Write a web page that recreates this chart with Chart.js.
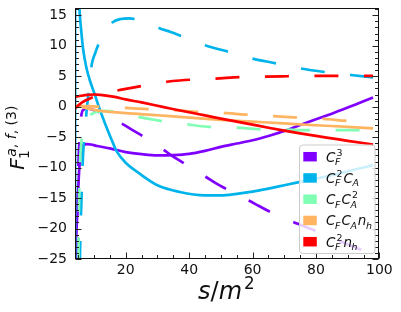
<!DOCTYPE html>
<html><head><meta charset="utf-8">
<script src="https://cdn.jsdelivr.net/npm/chart.js@4.4.1/dist/chart.umd.min.js"></script>
<style>html,body{margin:0;padding:0;background:#fff;}#wrap{width:401px;height:312px;}</style>
</head><body><div id="wrap"><canvas id="c" width="401" height="312"></canvas></div>
<script>
// ---------- data ----------
const xTicks = [20, 40, 60, 80, 100];
const yTicks = [-25, -20, -15, -10, -5, 0, 5, 10, 15];

// C_F^3
const cf3SolidX = [4.1,4.5,4.9,5.2,5.5,5.8,6.2,6.8,7.7,9,11,15,20,25,30,35,40,45,50,55,60,65,70,75,80,85,90,95,98];
const cf3SolidY = [-25.5,-20,-15,-11.5,-9,-7.5,-6.6,-6.25,-6.15,-6.2,-6.45,-6.85,-7.45,-7.8,-8.0,-7.95,-7.75,-7.25,-6.6,-6.05,-5.5,-4.8,-4.0,-3.0,-2.05,-1.15,-0.15,0.9,1.5];
const cf3DashX = [4.3,4.5,4.7,4.9,5.1,5.4,5.75,6.1,6.85,7.7,9,11,13,15.5,18.7,21.4,24.5,28,31.7,35,38.4,42,45.2,48.5,52,55.5,58.75,62,65.5,69,72.8,77,81,85,90,94.2,98];
const cf3DashY = [-30,-24,-18,-13,-9,-5.5,-2.8,-1.1,-0.45,-0.3,-0.4,-0.8,-1.3,-1.95,-2.75,-3.6,-4.55,-5.8,-7.0,-8.2,-9.3,-10.5,-11.5,-12.6,-13.6,-14.6,-15.4,-16.3,-17.25,-18.1,-18.9,-19.8,-20.6,-21.5,-22.6,-23.5,-24.3];

// C_F^2 C_A
const cf2caSolidX = [4.03,4.08,4.6,5.0,5.4,6.0,6.6,7.6,8.7,10.3,11.9,13.5,15.6,17.1,20,24.4,30,37,45,50,55,60,65,70,75,80,85,90,98];
const cf2caSolidY = [-30,60,32,21.5,16.1,12.3,9.3,6.4,4.3,1.9,-0.57,-2.8,-5.5,-7.3,-9.2,-11.0,-12.9,-14.0,-14.55,-14.55,-14.3,-13.95,-13.45,-12.9,-12.35,-11.8,-11.25,-10.6,-9.6];
const cf2caDashX = [5.4,5.55,5.8,6.05,6.35,6.7,7.2,7.7,8.3,8.9,9.3,10.3,11.7,13.5,16,18.5,21,24,27,31,34,40,45,52.5,60,67.6,75,82.7,91,98];
const cf2caDashY = [-30,-25,-19,-15,-10,-6.5,-3.5,-0.5,2.5,5.2,7.0,8.7,10.6,12.4,13.9,14.4,14.5,14.25,13.7,12.8,12.3,11.1,10.1,9.0,7.9,7.1,6.3,5.7,5.2,4.8];

// C_F C_A^2
const cfca2DashX = [5.05,5.15,5.3,5.5,5.8,6.3,7.0,7.8,8.75,10,12,14,16,20,24,31,39,46,55,62,70,77,85,93,98];
const cfca2DashY = [-30,-22,-15,-10,-7,-4.8,-3.0,-2.0,-1.4,-1.0,-0.75,-0.7,-0.8,-1.2,-1.67,-2.33,-2.87,-3.3,-3.45,-3.7,-3.75,-3.85,-3.85,-3.85,-3.85];

// C_F C_A n_h
const cfcanhSolidX = [4.0,6,8,11.5,20,30,40,50,60,70,80,90,98];
const cfcanhSolidY = [0.2,0.0,-0.3,-0.65,-1.05,-1.4,-1.8,-2.15,-2.45,-2.75,-3.05,-3.3,-3.55];
const cfcanhDashX = [4.0,6,8,11,15,20,27,35,43,50,58,66,73,81,85,89,97];
const cfcanhDashY = [0.0,0.1,0.1,0.0,-0.1,-0.2,-0.4,-0.57,-0.85,-1.0,-1.3,-1.55,-1.75,-1.95,-2.1,-2.3,-2.5];

// C_F^2 n_h
const cf2nhSolidX = [4,6,8,10,12,16,20,25,30,34,40,45,50,55,60,65,70,75,80,85,90,98];
const cf2nhSolidY = [1.6,1.8,1.95,2.0,1.95,1.65,1.2,0.7,0.15,-0.3,-0.92,-1.43,-1.95,-2.45,-2.95,-3.45,-3.92,-4.37,-4.8,-5.2,-5.6,-6.2];
const cf2nhDashX = [4.0,5,6.5,8.7,11,14,17.7,21.4,25,29,33,37,43,48,56,64,71,80,90,98];
const cf2nhDashY = [-0.3,0.2,0.8,1.35,1.8,2.25,2.7,3.05,3.4,3.8,4.1,4.3,4.5,4.6,4.85,4.95,5.0,5.05,5.05,5.05];

// x value where one dash of each dashed curve begins
const dashStarts = {cf3: 45.2, cf2ca: 45, cfca2: 24, cfcanh: 19.7, cf2nh: 48.3};

// ---------- styles ----------
const COL = {cf3:'#8000ff', cf2ca:'#00b4eb', cfca2:'#80ffb4', cfcanh:'#ffb462', cf2nh:'#ff0000'};
const LW = 2.7;
const DASH = [24, 25.5];
const FAM = '"DejaVu Sans", sans-serif';

function pts(xs, ys){ return xs.map((v,i)=>({x:v, y:ys[i]})); }
const defs = [
  {k:'cf3',   xs:cf3SolidX,   ys:cf3SolidY,   d:false},
  {k:'cf3',   xs:cf3DashX,    ys:cf3DashY,    d:true},
  {k:'cf2ca', xs:cf2caSolidX, ys:cf2caSolidY, d:false},
  {k:'cf2ca', xs:cf2caDashX,  ys:cf2caDashY,  d:true},
  {k:'cfca2', xs:cfca2DashX,  ys:cfca2DashY,  d:true},
  {k:'cfcanh',xs:cfcanhSolidX,ys:cfcanhSolidY,d:false},
  {k:'cfcanh',xs:cfcanhDashX, ys:cfcanhDashY, d:true},
  {k:'cf2nh', xs:cf2nhSolidX, ys:cf2nhSolidY, d:false},
  {k:'cf2nh', xs:cf2nhDashX,  ys:cf2nhDashY,  d:true},
];
const N = defs.length;
const datasets = defs.map((s,i)=>({
  data: pts(s.xs, s.ys), borderColor: COL[s.k], backgroundColor: COL[s.k],
  borderWidth: LW, borderDash: s.d ? DASH : [], borderDashOffset: 0,
  borderCapStyle: 'butt', pointRadius: 0, fill: false,
  cubicInterpolationMode: 'monotone', clip: 0, order: N - i
}));

// ---------- math text helpers ----------
function fnt(sz, it){ return (it ? 'italic ' : '') + sz + 'px ' + FAM; }
function spansW(ctx, spans, sz){ let w=0; for (const [t,it] of spans){ ctx.font=fnt(sz,it); w+=ctx.measureText(t).width; } return w; }
function drawSpans(ctx, spans, sz, x, y){ for (const [t,it] of spans){ ctx.font=fnt(sz,it); ctx.fillText(t,x,y); x+=ctx.measureText(t).width; } return x; }
function mathW(ctx, items, sz){
  let w=0; const ss=sz*0.7;
  for (const it of items){
    w += spansW(ctx, it.b, sz);
    let sw=0;
    if (it.sub) sw=Math.max(sw, spansW(ctx,it.sub,ss)-sz*0.03);
    if (it.sup) sw=Math.max(sw, spansW(ctx,it.sup,ss)+sz*0.08);
    if (it.sub||it.sup) w += sw + sz*0.07;
  }
  return w;
}
function drawMath(ctx, items, sz, x, y){
  const ss=sz*0.7;
  ctx.textAlign='left'; ctx.textBaseline='alphabetic';
  for (const it of items){
    x = drawSpans(ctx, it.b, sz, x, y);
    let sw=0;
    if (it.sub){ const e=drawSpans(ctx,it.sub,ss,x-sz*0.03,y+sz*0.26); sw=Math.max(sw,e-x); }
    if (it.sup){ const e=drawSpans(ctx,it.sup,ss,x+sz*0.08,y-sz*0.42); sw=Math.max(sw,e-x); }
    if (it.sub||it.sup) x += sw + sz*0.07;
  }
  return x;
}
const I = t => [t, true], U = t => [t, false];
const legendItems = [
  {k:'cf3',    m:[{b:[I('C')], sub:[I('F')], sup:[U('3')]}]},
  {k:'cf2ca',  m:[{b:[I('C')], sub:[I('F')], sup:[U('2')]}, {b:[I('C')], sub:[I('A')]}]},
  {k:'cfca2',  m:[{b:[I('C')], sub:[I('F')]}, {b:[I('C')], sub:[I('A')], sup:[U('2')]}]},
  {k:'cfcanh', m:[{b:[I('C')], sub:[I('F')]}, {b:[I('C')], sub:[I('A')]}, {b:[I('n')], sub:[I('h')]}]},
  {k:'cf2nh',  m:[{b:[I('C')], sub:[I('F')], sup:[U('2')]}, {b:[I('n')], sub:[I('h')]}]},
];
const yTitle = [{b:[I('F')], sub:[U('1')], sup:[I('a'),U(', '),I('f'),U(', '),U('(3)')]}];
const xTitle = [{b:[I('s'),U('/'),I('m')], sup:[U('2')]}];

// ---------- decorations plugin ----------
const deco = {
  id:'deco',
  afterDatasetsDraw(chart){
    const {ctx, chartArea:a, scales:{x, y}} = chart;
    ctx.save();
    ctx.strokeStyle='#222'; ctx.lineWidth=1;
    const L=Math.round(a.left)+0.5, R=Math.round(a.right)-0.5, T=Math.round(a.top)+0.5, B=Math.round(a.bottom)-0.5;
    ctx.beginPath();
    for (let v=5; v<=100; v+=5){
      const px=Math.round(x.getPixelForValue(v))+0.5; const len = (v%20===0)?6:3.5;
      ctx.moveTo(px,B); ctx.lineTo(px,B-len);
    }
    for (let v=-25; v<=16; v+=1){
      const py=Math.round(y.getPixelForValue(v))+0.5; const len=(v%5===0)?6:3.5;
      ctx.moveTo(L,py); ctx.lineTo(L+len,py);
      ctx.moveTo(R,py); ctx.lineTo(R-len,py);
    }
    ctx.stroke();
    ctx.strokeStyle='#111';
    ctx.strokeRect(L, T, R-L, B-T);

    // legend
    const bx=299.5, by=145, bw=75.5, bh=108.5, r=3;
    ctx.beginPath();
    ctx.moveTo(bx+r,by); ctx.lineTo(bx+bw-r,by); ctx.arcTo(bx+bw,by,bx+bw,by+r,r);
    ctx.lineTo(bx+bw,by+bh-r); ctx.arcTo(bx+bw,by+bh,bx+bw-r,by+bh,r);
    ctx.lineTo(bx+r,by+bh); ctx.arcTo(bx,by+bh,bx,by+bh-r,r);
    ctx.lineTo(bx,by+r); ctx.arcTo(bx,by,bx+r,by,r); ctx.closePath();
    ctx.fillStyle='rgba(255,255,255,0.8)'; ctx.fill();
    ctx.strokeStyle='#cccccc'; ctx.lineWidth=1; ctx.stroke();
    legendItems.forEach((it,i)=>{
      const cy = 156.7 + i*21.25;
      ctx.fillStyle = COL[it.k];
      ctx.fillRect(303.3, cy-4.75, 13.5, 9.5);
      ctx.fillStyle = '#111';
      drawMath(ctx, it.m, 13.5, 326, cy+4.8);
    });

    // axis titles
    ctx.fillStyle='#111';
    const wx = mathW(ctx, xTitle, 24);
    drawMath(ctx, xTitle, 24, (a.left+a.right)/2 - wx/2, 299);
    ctx.save();
    ctx.translate(24, 137);
    ctx.rotate(-Math.PI/2);
    const wy = mathW(ctx, yTitle, 20);
    drawMath(ctx, yTitle, 20, -wy/2, 0);
    ctx.restore();
    ctx.restore();
  }
};

const tickFont = {family: FAM, size: 14, lineHeight: 1.0};
const chart = new Chart(document.getElementById('c'), {
  type: 'line',
  data: {datasets},
  options: {
    responsive: false, animation: false, events: [],
    layout: {padding: {left: 0, right: 21.6, top: 8, bottom: 0}},
    plugins: {legend: {display: false}, tooltip: {enabled: false}},
    scales: {
      x: {type: 'linear', min: 4, max: 100,
          grid: {display: true, drawOnChartArea: false, drawTicks: true, tickLength: 4, tickColor: 'rgba(0,0,0,0)'},
          border: {display: false},
          afterBuildTicks: s => { s.ticks = xTicks.map(v => ({value: v})); },
          afterFit: s => { s.height = 53; },
          ticks: {font: tickFont, color: '#111', padding: 0, maxRotation: 0, autoSkip: false,
                  callback: v => String(v)}},
      y: {type: 'linear', min: -25, max: 16.2,
          grid: {display: true, drawOnChartArea: false, drawTicks: true, tickLength: 8, tickColor: 'rgba(0,0,0,0)'},
          border: {display: false},
          afterBuildTicks: s => { s.ticks = yTicks.map(v => ({value: v})); },
          afterFit: s => { s.width = 75; },
          ticks: {font: tickFont, color: '#111', padding: 0, autoSkip: false,
                  callback: v => (v < 0 ? '\u2212' + Math.abs(v) : String(v))}}
    }
  },
  plugins: [deco]
});

// align dash phase with the reference: a dash begins at dashStarts[k]
(function(){
  const xs = chart.scales.x, ys = chart.scales.y, P = DASH[0] + DASH[1];
  defs.forEach((s,i)=>{
    if (!s.d) return;
    const ref = dashStarts[s.k];
    let L = 0;
    for (let j=0; j<s.xs.length-1; j++){
      const x0=xs.getPixelForValue(s.xs[j]), y0=ys.getPixelForValue(s.ys[j]);
      const x1=xs.getPixelForValue(s.xs[j+1]), y1=ys.getPixelForValue(s.ys[j+1]);
      const seg=Math.hypot(x1-x0,y1-y0);
      if (s.xs[j+1] >= ref){ L += seg*(ref-s.xs[j])/(s.xs[j+1]-s.xs[j]); break; }
      L += seg;
    }
    chart.data.datasets[i].borderDashOffset = P - (L % P);
  });
  chart.update('none');
})();
</script>
</body></html>
